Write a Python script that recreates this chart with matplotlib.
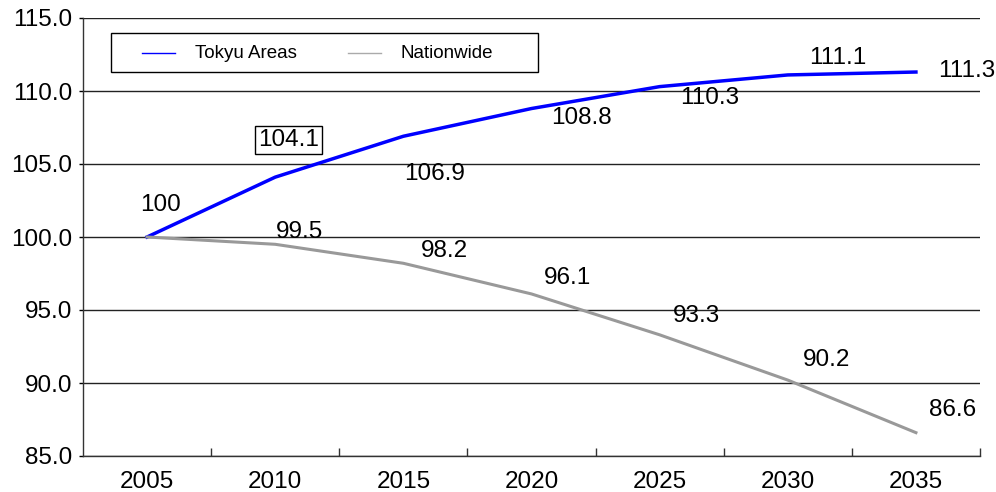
import matplotlib
matplotlib.use("Agg")
import matplotlib.pyplot as plt
from matplotlib.lines import Line2D
from matplotlib.patches import Rectangle

plt.rcParams['font.family'] = ['Liberation Sans', 'DejaVu Sans']

years = ['2005', '2010', '2015', '2020', '2025', '2030', '2035']
tokyu = [100, 104.1, 106.9, 108.8, 110.3, 111.1, 111.3]
nationwide = [100, 99.5, 98.2, 96.1, 93.3, 90.2, 86.6]
tokyu_text = ['100', '104.1', '106.9', '108.8', '110.3', '111.1', '111.3']
nation_text = ['', '99.5', '98.2', '96.1', '93.3', '90.2', '86.6']
series_names = ['Tokyu Areas', 'Nationwide']

# label offsets in pixels from each point
tokyu_off = [(13, 32), (13, 37), (31, -38), (50, -9), (50, -11), (50, 17), (51, 1)]
nation_off = [(0, 0), (24, 12), (41, 12), (36, 16), (37, 19), (39, 20), (37, 23)]

W, H = 996, 492
fig = plt.figure(figsize=(W/100, H/100), dpi=100)
ax = fig.add_axes([83/W, 1-456/H, (980-83)/W, (456-18)/H])

x = list(range(len(years)))
ax.plot(x, tokyu, color='#0000ff', lw=2.5, zorder=3)
ax.plot(x, nationwide, color='#999999', lw=2.2, zorder=3)

for i, t in enumerate(tokyu_text):
    bbox = None
    if i == 1:
        bbox = dict(boxstyle='square,pad=0.12', fc='white', ec='black', lw=1)
    ax.annotate(t, (x[i], tokyu[i]), xytext=tokyu_off[i], textcoords='offset pixels',
                ha='center', va='center', fontsize=17.5, bbox=bbox, zorder=4)
for i, t in enumerate(nation_text):
    if t:
        ax.annotate(t, (x[i], nationwide[i]), xytext=nation_off[i], textcoords='offset pixels',
                    ha='center', va='center', fontsize=17.5, zorder=4)

ax.set_xlim(-0.5, len(years) - 0.5)
ax.set_ylim(85, 115)
yt = [85, 90, 95, 100, 105, 110, 115]
ax.set_yticks(yt)
ax.set_yticklabels(['%.1f' % v for v in yt])
ax.set_xticks(x)
ax.set_xticklabels(years)
ax.set_xticks([i + 0.5 for i in x], minor=True)
ax.tick_params(axis='x', which='major', length=0, pad=11, labelsize=17.5)
ax.tick_params(axis='x', which='minor', direction='in', length=6, width=1, color='#333333')
ax.tick_params(axis='y', direction='out', length=3, width=1, labelsize=17.5, pad=5)

ax.grid(axis='y', color='#222222', lw=1)
ax.set_axisbelow(True)
for s in ['top', 'right']:
    ax.spines[s].set_visible(False)
for s in ['left', 'bottom']:
    ax.spines[s].set_color('#333333')
    ax.spines[s].set_linewidth(1)

# legend box drawn in figure pixels
fig.add_artist(Rectangle((111/W, 1-72/H), (538-111)/W, 39/H, transform=fig.transFigure,
                         fc='white', ec='black', lw=1, zorder=5))
legend_colors = ['#0000ff', '#aaaaaa']
handle_x = [142, 348]
text_x = [195, 400]
ly = 1 - 53/H
for name, c, hx, tx in zip(series_names, legend_colors, handle_x, text_x):
    fig.add_artist(Line2D([hx/W, (hx+33)/W], [ly, ly], transform=fig.transFigure,
                          color=c, lw=1, zorder=6))
    fig.text(tx/W, ly, name, ha='left', va='center', fontsize=13.5, zorder=6)

fig.savefig('out.png', dpi=100)
